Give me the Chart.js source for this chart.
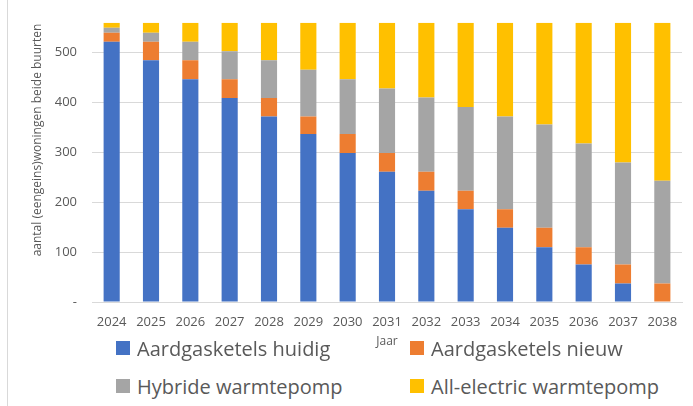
<!DOCTYPE html>
<html>
<head>
<meta charset="utf-8">
<script src="https://cdn.jsdelivr.net/npm/chart.js@4/dist/chart.umd.min.js"></script>
<style>
  body { margin: 0; background: #fff; }
  #wrap { position: relative; width: 693px; height: 406px; overflow: hidden; }
  #frame { position: absolute; left: 7px; top: 0; width: 1px; height: 406px; background: #d9d9d9; }
  #box { position: absolute; left: 0; top: 0; width: 693px; height: 350px; }
  .leg { position: absolute; display: flex; align-items: center; font-family: "Open Sans", sans-serif; font-size: 20px; color: #595959; white-space: nowrap; }
  .leg span.sw { display: inline-block; width: 14px; height: 14px; margin-right: 7px; }
</style>
</head>
<body>
<div id="wrap">
  <div id="frame"></div>
  <div id="box"><canvas id="chart"></canvas></div>
</div>
<script>
// waarden
const jaren = ['2024', '2025', '2026', '2027', '2028', '2029', '2030', '2031', '2032', '2033', '2034', '2035', '2036', '2037', '2038'];
const huidig = [522, 485, 447, 409, 372, 337, 299, 261, 223, 186, 149, 110, 75, 37, 0];
const nieuw = [18, 37, 38, 38, 37, 35, 38, 38, 38, 37, 37, 39, 35, 38, 37];
const hybride = [10, 18, 37, 56, 76, 94, 110, 129, 149, 168, 186, 207, 208, 205, 206];
const allElectric = [10, 20, 38, 57, 75, 94, 113, 132, 150, 169, 188, 204, 242, 280, 317];
const yTicks = [0, 100, 200, 300, 400, 500];
const yTitel = 'aantal (eengeins)woningen beide buurten';

const reeksen = [
    { label: 'Aardgasketels huidig', data: huidig, color: '#4472C4' },
    { label: 'Aardgasketels nieuw', data: nieuw, color: '#ED7D31' },
    { label: 'Hybride warmtepomp', data: hybride, color: '#A5A5A5' },
    { label: 'All-electric warmtepomp', data: allElectric, color: '#FFC000' }
];

const tickFont = { family: '"Open Sans", sans-serif', size: 13 };

// y-titel staat in het origineel iets hoger dan het midden van de as
const yTitelPlugin = {
    id: 'yTitel',
    afterDraw(chart) {
        const ctx = chart.ctx;
        ctx.save();
        ctx.translate(38, 140);
        ctx.rotate(-Math.PI / 2);
        ctx.font = '12px "Open Sans", sans-serif';
        ctx.fillStyle = '#595959';
        ctx.textAlign = 'center';
        ctx.textBaseline = 'middle';
        ctx.fillText(yTitel, 0, 0);
        ctx.restore();
    }
};

new Chart(document.getElementById('chart'), {
    type: 'bar',
    data: {
        labels: jaren,
        datasets: reeksen.map(r => ({
            label: r.label,
            data: r.data,
            backgroundColor: r.color,
            borderWidth: 0,
            barPercentage: 0.41,
            categoryPercentage: 1
        }))
    },
    options: {
        responsive: true,
        maintainAspectRatio: false,
        animation: false,
        layout: { padding: { left: 0, right: 11, top: 15, bottom: 0 } },
        plugins: { legend: { display: false }, tooltip: { enabled: false } },
        scales: {
            x: {
                stacked: true,
                grid: { display: false, drawTicks: false },
                border: { color: '#d9d9d9', width: 1 },
                ticks: { color: '#595959', font: tickFont, padding: 12, maxRotation: 0, autoSkip: false },
                title: { display: true, text: 'Jaar', color: '#595959', font: { family: '"Open Sans", sans-serif', size: 12 }, padding: { top: 0, bottom: 1 } },
                afterFit: s => { s.height = 48; }
            },
            y: {
                stacked: true,
                min: 0,
                max: 560,
                grid: { color: '#d9d9d9', lineWidth: 1, drawTicks: false },
                border: { display: false },
                ticks: { color: '#595959', font: tickFont, padding: 15, callback: v => v === 0 ? '-' : v },
                afterBuildTicks: s => { s.ticks = yTicks.map(v => ({ value: v })); },
                afterFit: s => { s.width = 92; }
            }
        }
    },
    plugins: [yTitelPlugin]
});

// legenda in twee kolommen, zoals in het origineel
const legPos = [[116, 348], [410, 348], [116, 386], [410, 386]];
reeksen.forEach((r, i) => {
    const d = document.createElement('div');
    d.className = 'leg';
    d.style.left = legPos[i][0] + 'px';
    d.style.top = (legPos[i][1] - 15) + 'px';
    d.style.height = '30px';
    d.innerHTML = '<span class="sw" style="background:' + r.color + '"></span>' + r.label;
    document.getElementById('wrap').appendChild(d);
});
</script>
</body>
</html>
